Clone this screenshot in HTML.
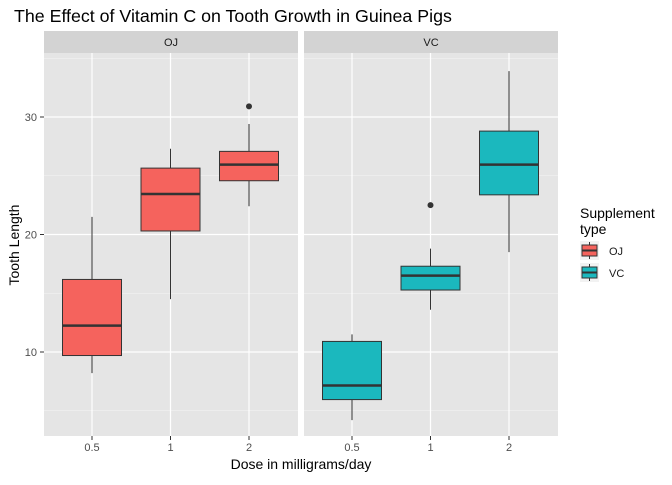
<!DOCTYPE html>
<html><head><meta charset="utf-8"><style>
body{margin:0;background:#fff;font-family:"Liberation Sans",sans-serif}
text{font-family:"Liberation Sans",sans-serif}
</style></head><body>
<svg id="c" width="672" height="480" xmlns="http://www.w3.org/2000/svg"></svg>
<script>
const supps=["OJ","VC"];
const doses=["0.5","1","2"];
const mins=[[8.2,14.5,22.4],[4.2,13.6,18.5]];
const q1s=[[9.7,20.3,24.575],[5.95,15.275,23.375]];
const meds=[[12.25,23.45,25.95],[7.15,16.5,25.95]];
const q3s=[[16.175,25.65,27.075],[10.9,17.3,28.8]];
const maxs=[[21.5,27.3,29.4],[11.5,18.8,33.9]];
const outliers=[[[],[],[30.9]],[[],[22.5],[]]];
const yTicks=[10,20,30];
const yMinor=[5,15,25,35];
const colors=["#F5635D","#1BB8BE"];
const svg=document.getElementById('c');
const NS="http://www.w3.org/2000/svg";
function el(t,a,p){const e=document.createElementNS(NS,t);for(const k in a)e.setAttribute(k,a[k]);(p||svg).appendChild(e);return e;}
const y=v=>352-(v-10)*11.75;
const panelX=[44,304],pw=254,pTop=53,pBot=436;
const x=(p,i)=>panelX[p]+48+78.5*i;
let t=el('text',{x:14,y:22,'font-size':17.8,fill:'#000'});t.textContent="The Effect of Vitamin C on Tooth Growth in Guinea Pigs";

supps.forEach((s,p)=>{
  const g=el('g',{});
  el('rect',{x:panelX[p],y:31,width:pw,height:22,fill:'#D3D3D3'},g);
  let st=el('text',{x:panelX[p]+pw/2,y:46,'font-size':11,'text-anchor':'middle',fill:'#1A1A1A'},g);st.textContent=s;
  
  el('rect',{x:panelX[p],y:pTop,width:pw,height:pBot-pTop,fill:'#E5E5E5'},g);
  yMinor.forEach(v=>{if(y(v)>pTop&&y(v)<pBot)el('line',{x1:panelX[p],x2:panelX[p]+pw,y1:y(v),y2:y(v),stroke:'#f5f5f5','stroke-width':0.6},g);});
  yTicks.forEach(v=>el('line',{x1:panelX[p],x2:panelX[p]+pw,y1:y(v),y2:y(v),stroke:'#fff','stroke-width':1.2},g));
  doses.forEach((d,i)=>{
    const cx=x(p,i);
    el('line',{x1:cx,x2:cx,y1:pTop,y2:pBot,stroke:'#fff','stroke-width':1.2},g);
    el('line',{x1:cx,x2:cx,y1:pBot,y2:pBot+4,stroke:'#333'});
    let tl=el('text',{x:cx,y:pBot+15,'font-size':11,'text-anchor':'middle',fill:'#4D4D4D'});tl.textContent=d;
    
  });
  doses.forEach((d,i)=>{
    const cx=x(p,i),hw=29.5;
    const b=el('g',{},g);
    el('line',{x1:cx,x2:cx,y1:y(maxs[p][i]),y2:y(q3s[p][i]),stroke:'#333'},b);
    el('line',{x1:cx,x2:cx,y1:y(q1s[p][i]),y2:y(mins[p][i]),stroke:'#333'},b);
    el('rect',{x:cx-hw,y:y(q3s[p][i]),width:2*hw,height:y(q1s[p][i])-y(q3s[p][i]),fill:colors[p],stroke:'#333','stroke-width':1},b);
    el('line',{x1:cx-hw,x2:cx+hw,y1:y(meds[p][i]),y2:y(meds[p][i]),stroke:'#333','stroke-width':2.5},b);
    outliers[p][i].forEach(o=>el('circle',{cx:cx,cy:y(o),r:3,fill:'#333'},b));
  });
});
yTicks.forEach(v=>{
  el('line',{x1:40,x2:44,y1:y(v),y2:y(v),stroke:'#333'});
  let tl=el('text',{x:37,y:y(v)+4,'font-size':11,'text-anchor':'end',fill:'#4D4D4D'});tl.textContent=v;
  
});
let xt=el('text',{x:301,y:469,'font-size':14,'text-anchor':'middle'});xt.textContent="Dose in milligrams/day";

let yt=el('text',{x:19,y:245,'font-size':14,'text-anchor':'middle',transform:'rotate(-90 19 245)'});yt.textContent="Tooth Length";

const lg=el('g',{});
let l1=el('text',{x:580,y:218,'font-size':14},lg);l1.textContent="Supplement";
let l2=el('text',{x:580,y:234,'font-size':14},lg);l2.textContent="type";
supps.forEach((s,k)=>{
  const ky=241+k*22;
  const e=el('g',{},lg);
  el('rect',{x:580,y:ky,width:19,height:19,fill:'#F2F2F2'},e);
  el('line',{x1:589.5,x2:589.5,y1:ky+1,y2:ky+18,stroke:'#333'},e);
  el('rect',{x:582,y:ky+4,width:15,height:11,fill:colors[k],stroke:'#333'},e);
  el('line',{x1:582,x2:597,y1:ky+9.5,y2:ky+9.5,stroke:'#333','stroke-width':2},e);
  let lt=el('text',{x:609,y:ky+14,'font-size':11,fill:'#1A1A1A'},e);lt.textContent=s;
});
</script>
</body></html>
